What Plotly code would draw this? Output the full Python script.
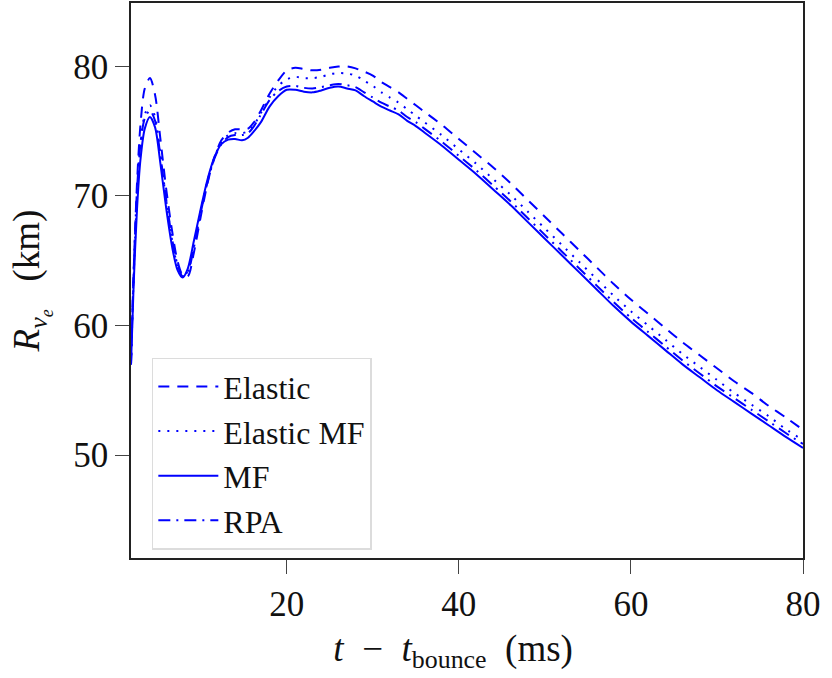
import plotly.graph_objects as go

# time after bounce (ms)
t_ms = [1.9, 2.2, 2.6, 3.0, 3.5, 4.1, 4.7, 5.3, 6.0, 6.7, 7.3, 7.9, 8.5, 9.2, 10.0,
        10.8, 11.6, 12.4, 13.2, 14.0, 14.8, 15.5, 16.2, 17.0, 18.0, 19.0, 20.0, 21.0,
        22.0, 23.0, 24.0, 25.0, 26.0, 27.0, 28.0, 29.0, 30, 31, 32, 33, 34, 35, 36,
        38, 40, 42, 44, 46, 48, 50, 52, 54, 56, 58, 60, 62, 64, 66, 68, 70, 72, 74,
        76, 78, 80]

r_elastic = [57.0, 64.0, 71.0, 75.5, 78.3, 79.1, 77.8, 74.5, 70.5, 67.2, 65.0, 63.9, 63.8,
             65.6, 68.4, 71.0, 73.0, 74.3, 74.9, 75.15, 75.15, 75.2, 75.7, 76.6, 77.9,
             78.9, 79.7, 79.9, 79.8, 79.7, 79.75, 79.9, 80.0, 80.0, 79.85, 79.6, 79.3,
             78.8, 78.4, 78.0, 77.5, 77.0, 76.5, 75.5, 74.4, 73.3, 72.2, 71.0, 69.7,
             68.4, 67.1, 65.8, 64.5, 63.2, 62.0, 60.9, 59.8, 58.7, 57.7, 56.7, 55.7,
             54.8, 53.8, 52.9, 51.95]

r_elastic_mf = [57.0, 63.5, 70.0, 74.0, 76.3, 77.0, 76.1, 73.3, 69.6, 66.5, 64.6, 63.8,
                64.2, 66.1, 68.8, 71.2, 73.0, 74.15, 74.7, 74.85, 74.85, 75.0, 75.5, 76.4,
                77.6, 78.5, 79.0, 79.2, 79.1, 79.1, 79.2, 79.4, 79.5, 79.45, 79.3, 78.9,
                78.5, 78.0, 77.6, 77.2, 76.7, 76.2, 75.7, 74.7, 73.6, 72.5, 71.3, 70.1,
                68.8, 67.5, 66.2, 64.9, 63.6, 62.3, 61.1, 60.0, 58.9, 57.8, 56.8, 55.8,
                54.8, 53.9, 53.0, 52.0, 51.15]

r_mf = [57.0, 63.0, 69.0, 72.8, 75.2, 76.1, 75.3, 72.6, 69.0, 66.0, 64.3, 63.7, 64.4,
        66.5, 69.0, 71.3, 73.0, 74.0, 74.35, 74.4, 74.3, 74.5, 75.0, 75.7, 76.9, 77.7,
        78.2, 78.2, 78.05, 78.0, 78.15, 78.35, 78.45, 78.3, 78.15, 77.7, 77.3, 76.9,
        76.6, 76.3, 75.8, 75.4, 74.9, 73.9, 72.8, 71.7, 70.5, 69.3, 68.0, 66.7, 65.4,
        64.1, 62.8, 61.5, 60.3, 59.2, 58.1, 57.0, 56.0, 55.0, 54.1, 53.2, 52.3, 51.4,
        50.55]

r_rpa = [57.0, 64.0, 70.5, 74.0, 76.0, 76.6, 75.8, 73.2, 69.7, 66.6, 64.7, 63.8, 64.1,
         66.0, 68.7, 71.1, 72.9, 74.0, 74.55, 74.7, 74.7, 74.85, 75.4, 76.3, 77.4, 78.1,
         78.45, 78.5, 78.35, 78.3, 78.4, 78.55, 78.65, 78.55, 78.4, 78.0, 77.6, 77.2,
         76.9, 76.6, 76.1, 75.7, 75.2, 74.2, 73.1, 72.0, 70.8, 69.6, 68.3, 67.0, 65.7,
         64.4, 63.1, 61.8, 60.6, 59.5, 58.4, 57.3, 56.3, 55.3, 54.4, 53.5, 52.6, 51.7,
         50.85]

series_names = ["Elastic", "Elastic MF", "MF", "RPA"]
x_ticks = [20, 40, 60, 80]
y_ticks = [50, 60, 70, 80]

dashes = ["11px,8px", "2px,7px", "solid", "12px,6px,2px,6px"]
series = [r_elastic, r_elastic_mf, r_mf, r_rpa]

FONT = "Liberation Serif"
BLUE = "#0000ff"

fig = go.Figure()
for name, ys, d in zip(series_names, series, dashes):
    fig.add_trace(go.Scatter(
        x=t_ms, y=ys, mode="lines", name=name,
        line=dict(color=BLUE, width=2, dash=d, shape="spline", smoothing=0.8),
    ))

axis_common = dict(
    showline=True, linecolor="#222222", linewidth=1.5, mirror=True,
    ticks="outside", ticklen=14, tickwidth=1.2, tickcolor="#444444",
    showgrid=False, zeroline=False,
    tickfont=dict(family=FONT, size=35, color="#111111"),
)

fig.update_layout(
    width=832, height=678,
    margin=dict(l=131, r=29, t=1, b=120),
    paper_bgcolor="white", plot_bgcolor="white",
    font=dict(family=FONT, size=35, color="#111111"),
    xaxis=dict(range=[1.9, 80], tickvals=x_ticks,
               title=dict(text="<i>t</i>  −  <i>t</i><sub>bounce</sub>  (ms)&nbsp;&nbsp;&nbsp;",
                          font=dict(family=FONT, size=37), standoff=12),
               **axis_common),
    yaxis=dict(range=[42.05, 84.9], tickvals=y_ticks,
               title=dict(text="<i>R</i><sub><i>ν<sub>e</sub></i></sub>   (km)",
                          font=dict(family=FONT, size=37), standoff=22),
               **axis_common),
    legend=dict(x=0.031, y=0.361, xanchor="left", yanchor="top",
                bgcolor="white", bordercolor="#dcdcdc", borderwidth=1.5,
                font=dict(family=FONT, size=32, color="#111111"),
                itemwidth=60, tracegroupgap=0),
    showlegend=True,
)

fig.write_html("out.html", config={"displayModeBar": False},
               post_script="document.body.style.margin='0';")
